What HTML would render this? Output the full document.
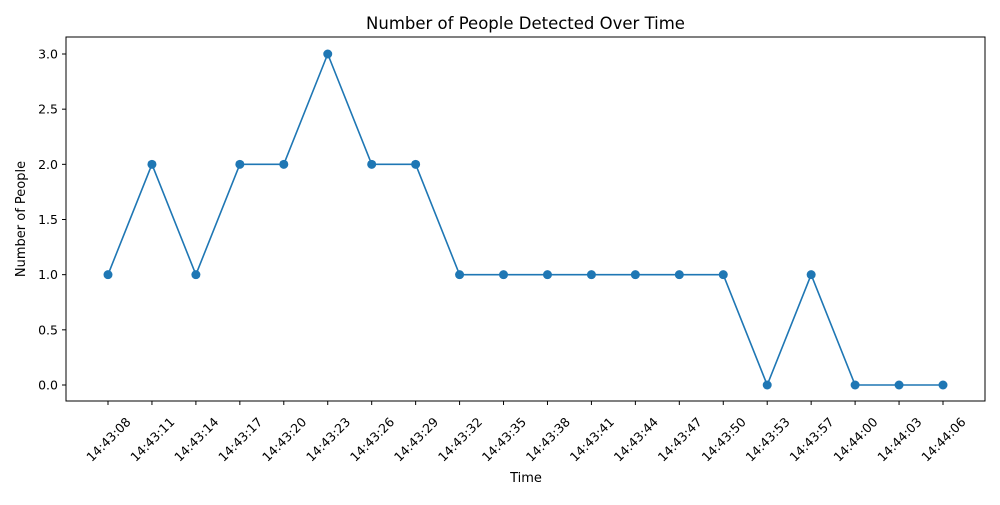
<!DOCTYPE html>
<html><head><meta charset="utf-8"><style>
body{margin:0;background:#fff;}
svg{font-family:"DejaVu Sans","Liberation Sans",sans-serif;}
</style></head><body>
<svg id="chart" width="1000" height="500">
<rect width="1000" height="500" fill="#fff"/>
<text x="525.5" y="29" font-size="16.5" text-anchor="middle">Number of People Detected Over Time</text>
<text x="526" y="482" font-size="13" text-anchor="middle">Time</text>
<text transform="translate(25,219) rotate(-90)" font-size="13" text-anchor="middle">Number of People</text>
<g id="axes"></g>
<rect x="66" y="37" width="919" height="364" fill="none" stroke="#000" stroke-width="1"/>
</svg>
<script>
const categories=["14:43:08","14:43:11","14:43:14","14:43:17","14:43:20","14:43:23","14:43:26","14:43:29","14:43:32","14:43:35","14:43:38","14:43:41","14:43:44","14:43:47","14:43:50","14:43:53","14:43:57","14:44:00","14:44:03","14:44:06"];
const values=[1,2,1,2,2,3,2,2,1,1,1,1,1,1,1,0,1,0,0,0];
const yTicks=[0,0.5,1,1.5,2,2.5,3];
const yTickLabels=["0.0","0.5","1.0","1.5","2.0","2.5","3.0"];
const NS="http://www.w3.org/2000/svg";
const g=document.getElementById('axes');
const xs=i=>108+i*(943-108)/(categories.length-1);
const ys=v=>385-v*(385-54)/3;
function mk(t,a){const e=document.createElementNS(NS,t);for(const k in a)e.setAttribute(k,a[k]);g.appendChild(e);return e;}
yTicks.forEach((v,i)=>{
  const l=mk('line',{x1:62,x2:66,y1:ys(v),y2:ys(v),stroke:'#000'});
  
  
  const t=mk('text',{x:58,y:ys(v)+4.5,'font-size':12.5,'text-anchor':'end'});
  t.textContent=yTickLabels[i];
  
  
});
categories.forEach((c,i)=>{
  const x=xs(i);
  const l=mk('line',{x1:x,x2:x,y1:401,y2:405,stroke:'#000'});
  
  
  const t=mk('text',{transform:`translate(${x+0.5},${439.5}) rotate(-45)`,'font-size':12.5,'text-anchor':'middle',dy:'0.35em'});
  t.textContent=c;
  
  
});
const p=mk('polyline',{points:values.map((v,i)=>xs(i)+','+ys(v)).join(' '),fill:'none',stroke:'#1f77b4','stroke-width':1.6});


values.forEach((v,i)=>{
  const c=mk('circle',{cx:xs(i),cy:ys(v),r:4.5,fill:'#1f77b4'});
  
  
});
</script>
</body></html>
